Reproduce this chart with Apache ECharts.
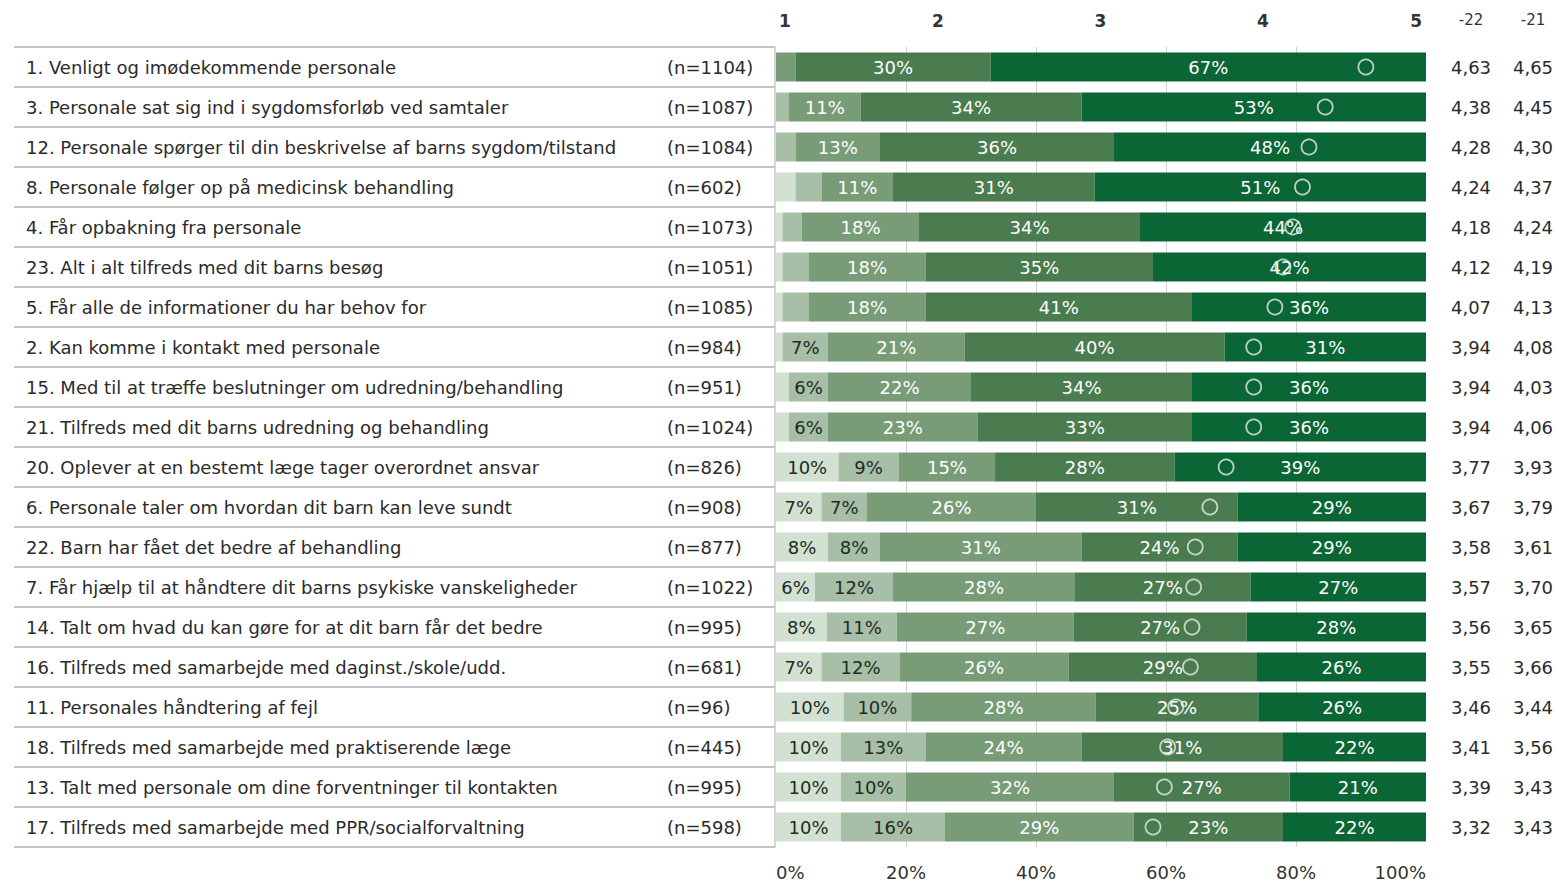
<!DOCTYPE html>
<html><head><meta charset="utf-8">
<script src="https://cdn.jsdelivr.net/npm/echarts@6/dist/echarts.min.js"></script>
<style>html,body{margin:0;padding:0;background:#fff}#c{width:1559px;height:882px}</style>
</head><body><div id="c"></div>
<script>
const questions = [
  "1. Venligt og imødekommende personale",
  "3. Personale sat sig ind i sygdomsforløb ved samtaler",
  "12. Personale spørger til din beskrivelse af barns sygdom/tilstand",
  "8. Personale følger op på medicinsk behandling",
  "4. Får opbakning fra personale",
  "23. Alt i alt tilfreds med dit barns besøg",
  "5. Får alle de informationer du har behov for",
  "2. Kan komme i kontakt med personale",
  "15. Med til at træffe beslutninger om udredning/behandling",
  "21. Tilfreds med dit barns udredning og behandling",
  "20. Oplever at en bestemt læge tager overordnet ansvar",
  "6. Personale taler om hvordan dit barn kan leve sundt",
  "22. Barn har fået det bedre af behandling",
  "7. Får hjælp til at håndtere dit barns psykiske vanskeligheder",
  "14. Talt om hvad du kan gøre for at dit barn får det bedre",
  "16. Tilfreds med samarbejde med daginst./skole/udd.",
  "11. Personales håndtering af fejl",
  "18. Tilfreds med samarbejde med praktiserende læge",
  "13. Talt med personale om dine forventninger til kontakten",
  "17. Tilfreds med samarbejde med PPR/socialforvaltning"
];
const nLabels = ["(n=1104)","(n=1087)","(n=1084)","(n=602)","(n=1073)","(n=1051)","(n=1085)","(n=984)","(n=951)","(n=1024)",
  "(n=826)","(n=908)","(n=877)","(n=1022)","(n=995)","(n=681)","(n=96)","(n=445)","(n=995)","(n=598)"];
// answer shares per category (1 = lowest ... 5 = highest), in percent
const share1 = [0,0,0,3,1,1,1,1,2,2, 9.6,7,8,6,7.8,7,10.4,10,10,10];
const share2 = [0,2,3,4,3,4,4,7,6,6, 9.3,7,8,12,10.8,12,10.4,13,10,16];
const share3 = [3,11,13,11,18,18,18,21,22,23, 14.8,26,31,28,27.2,26,28.4,24,32,29];
const share4 = [30,34,36,31,34,35,41,40,34,33, 27.6,31,24,27,26.6,29,25,31,27,23];
const share5 = [67,53,48,51,44,42,36,31,36,36, 38.7,29,29,27,27.6,26,25.8,22,21,22];
const mean22 = [4.63,4.38,4.28,4.24,4.18,4.12,4.07,3.94,3.94,3.94,3.77,3.67,3.58,3.57,3.56,3.55,3.46,3.41,3.39,3.32];
const mean21 = [4.65,4.45,4.30,4.37,4.24,4.19,4.13,4.08,4.03,4.06,3.93,3.79,3.61,3.70,3.65,3.66,3.44,3.56,3.43,3.43];
const columnHeaders = ["-22","-21"];
const scoreMin = 1, scoreMax = 5;

const segColors = ["#d3e1d3","#a6bfa6","#789b78","#4a7c50","#0b6636"];
const labelColors = ["#1f2a1f","#1f2a1f","#ffffff","#ffffff","#ffffff"];
const shares = [share1, share2, share3, share4, share5];
const FONT = "DejaVu Sans";
const FS = 18;
const fmt = v => v.toFixed(2).replace('.', ',');
const hidden = { axisLine: { show: false }, axisTick: { show: false }, splitLine: { show: false } };

const barSeries = shares.map((arr, k) => ({
  type: 'bar', stack: 'all', xAxisIndex: 0, yAxisIndex: 0,
  barWidth: 29, data: arr,
  itemStyle: { color: segColors[k] },
  label: {
    show: true, position: 'inside', fontFamily: FONT, fontSize: FS,
    color: labelColors[k],
    formatter: p => p.value >= 5 ? Math.round(p.value) + '%' : ''
  },
  emphasis: { disabled: true }, z: 2
}));

const chart = echarts.init(document.getElementById('c'), null, { renderer: 'svg' });
chart.setOption({
  animation: false,
  backgroundColor: '#ffffff',
  grid: [
    { left: 776, width: 650, top: 47, height: 800, outerBoundsMode: 'none', containLabel: false, show: false },
    { left: 14, width: 761, top: 47, height: 800, outerBoundsMode: 'none', containLabel: false, show: false }
  ],
  xAxis: [
    { gridIndex: 0, type: 'value', position: 'bottom', min: 0, max: 100, interval: 20,
      axisLine: { show: false }, axisTick: { show: false },
      splitLine: { show: true, showMinLine: false, showMaxLine: false, lineStyle: { color: '#d0d0d0', width: 1 } },
      axisLabel: { formatter: '{value}%', fontFamily: FONT, fontSize: FS, color: '#333', margin: 16,
        alignMinLabel: 'left', alignMaxLabel: 'right' } },
    { gridIndex: 0, type: 'value', position: 'top', min: scoreMin, max: scoreMax, interval: 1,
      axisLine: { show: false }, axisTick: { show: false }, splitLine: { show: false },
      axisLabel: { fontFamily: FONT, fontSize: 17, fontWeight: 'bold', color: '#333', margin: 18,
        alignMinLabel: 'left', alignMaxLabel: 'right', padding: [0, 4, 0, 3] } },
    Object.assign({ gridIndex: 1, type: 'value', min: 0, max: 1, axisLabel: { show: false } }, hidden)
  ],
  yAxis: [
    { gridIndex: 0, type: 'category', data: questions, inverse: true, position: 'left',
      axisLine: { show: false }, axisTick: { show: false }, splitLine: { show: false },
      axisLabel: { interval: 0, align: 'left', margin: 750, fontFamily: FONT, fontSize: FS, color: '#2b2b2b',
        formatter: (v, i) => '{q|' + v + '}{n|' + nLabels[i] + '}',
        rich: { q: { width: 641, fontFamily: FONT, fontSize: FS, color: '#2b2b2b' },
                n: { fontFamily: FONT, fontSize: FS, color: '#2b2b2b' } } } },
    { gridIndex: 0, type: 'category', data: questions, inverse: true, position: 'right',
      axisLine: { show: false }, axisTick: { show: false }, splitLine: { show: false },
      axisLabel: { interval: 0, align: 'center', margin: 45, fontFamily: FONT, fontSize: FS, color: '#2b2b2b',
        formatter: (v, i) => fmt(mean22[i]) } },
    { gridIndex: 0, type: 'category', data: questions, inverse: true, position: 'right', offset: 62,
      axisLine: { show: false }, axisTick: { show: false }, splitLine: { show: false },
      axisLabel: { interval: 0, align: 'center', margin: 45, fontFamily: FONT, fontSize: FS, color: '#2b2b2b',
        formatter: (v, i) => fmt(mean21[i]) } },
    { gridIndex: 1, type: 'category', data: questions, inverse: true, position: 'right',
      axisLine: { show: true, onZero: false, lineStyle: { color: '#c8c8c8', width: 1.5 } },
      axisTick: { show: false }, axisLabel: { show: false },
      splitLine: { show: true, interval: 0, lineStyle: { color: '#c4c4c4', width: 2 } } }
  ],
  graphic: columnHeaders.map((h, k) => ({
    type: 'text', x: 1471 + k * 62, y: 20, z: 10,
    style: { text: h, fontFamily: FONT, fontSize: 15, fill: '#333', textAlign: 'center', textVerticalAlign: 'middle' }
  })),
  series: barSeries.concat([{
    type: 'scatter', xAxisIndex: 1, yAxisIndex: 0, z: 5,
    data: mean22.map((m, i) => [m, i]),
    symbol: 'circle', symbolSize: 15,
    itemStyle: { color: 'rgba(0,0,0,0)', borderColor: '#e6eee6', borderWidth: 1.8 },
    emphasis: { disabled: true }, silent: true
  }])
});
</script></body></html>
